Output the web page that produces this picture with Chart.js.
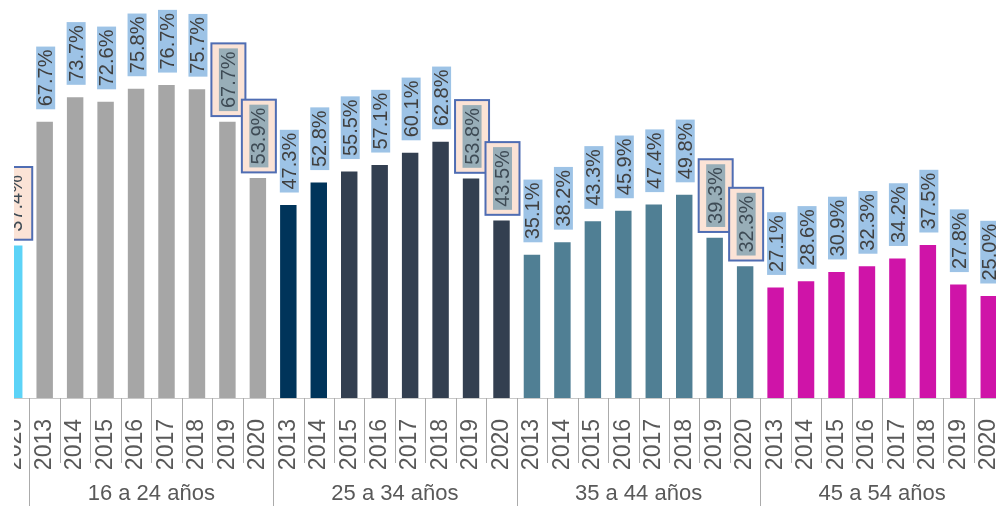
<!DOCTYPE html>
<html>
<head>
<meta charset="utf-8">
<script src="https://cdn.jsdelivr.net/npm/chart.js@4.4.1/dist/chart.umd.min.js"></script>
<style>
    html, body { margin: 0; padding: 0; background: #fff; }
    #wrap { position: relative; width: 996px; height: 506px; overflow: hidden; }
    #chart { position: absolute; left: -1px; top: 0; }
    #mask { position: absolute; left: 0; top: 0; width: 14px; height: 506px; background: #fff; }
</style>
</head>
<body>
<div id="wrap">
    <canvas id="chart" width="1005" height="506"></canvas>
    <div id="mask"></div>
</div>
<script>
// Data
const years = ["2013", "2014", "2015", "2016", "2017", "2018", "2019", "2020"];
const groupNames = ["16 a 24 años", "25 a 34 años", "35 a 44 años", "45 a 54 años"];
const prevGroupLast = 37.4;  // cut-off bar on the left (previous group, 2020)
const age16_24 = [67.7, 73.7, 72.6, 75.8, 76.7, 75.7, 67.7, 53.9];
const age25_34 = [47.3, 52.8, 55.5, 57.1, 60.1, 62.8, 53.8, 43.5];
const age35_44 = [35.1, 38.2, 43.3, 45.9, 47.4, 49.8, 39.3, 32.3];
const age45_54 = [27.1, 28.6, 30.9, 32.3, 34.2, 37.5, 27.8, 25.0];

const labels = ["2020"].concat(years, years, years, years);
const values = [prevGroupLast].concat(age16_24, age25_34, age35_44, age45_54);

// bar colours per category
const colors = labels.map((y, i) => {
    if (i === 0) return "#5CD3F7";
    const g = Math.floor((i - 1) / 8), k = (i - 1) % 8;
    if (g === 0) return "#A6A6A6";
    if (g === 1) return k < 2 ? "#00345A" : "#333F50";
    if (g === 2) return "#507F94";
    return "#CF14A8";
});

// 2019/2020 labels boxed, except in the last group
const isHighlight = i => i === 0 || (i < 25 && ((i - 1) % 8) >= 6);

// Rotated value labels above the bars
const barLabels = {
    id: "barLabels",
    afterDatasetsDraw(chart) {
        const ctx = chart.ctx;
        const meta = chart.getDatasetMeta(0);
        ctx.save();
        ctx.font = "20px 'Liberation Sans'";
        ctx.textAlign = "center";
        ctx.textBaseline = "middle";
        meta.data.forEach((bar, i) => {
            const txt = values[i].toFixed(1) + "%";
            const boxH = ctx.measureText(txt).width + 6;
            ctx.save();
            if (isHighlight(i)) {
                ctx.translate(bar.x + 1, bar.y - 5.7);
                ctx.rotate(-Math.PI / 2);
                ctx.fillStyle = "#FBE3D6";
                ctx.fillRect(0, -17, boxH + 10, 34);
                ctx.strokeStyle = "#4F6DB3";
                ctx.lineWidth = 2;
                ctx.strokeRect(0, -17, boxH + 10, 34);
                if (i !== 0) {
                    ctx.fillStyle = "#98AEB8";
                    ctx.fillRect(5, -9.5, boxH, 19);
                }
                ctx.fillStyle = "#3E4B55";
                ctx.fillText(txt, 5 + boxH / 2, 1);
            } else {
                ctx.translate(bar.x + 1, bar.y - 12.5);
                ctx.rotate(-Math.PI / 2);
                ctx.fillStyle = "#9DC3E6";
                ctx.fillRect(0, -9.5, boxH, 19);
                ctx.fillStyle = "#404040";
                ctx.fillText(txt, boxH / 2, 1);
            }
            ctx.restore();
        });
        ctx.restore();
    }
};

// Category separators and age-group labels under the axis
const groupAxis = {
    id: "groupAxis",
    afterDraw(chart) {
        const ctx = chart.ctx;
        const x = chart.scales.x;
        const step = x.width / labels.length;
        ctx.save();
        ctx.strokeStyle = "#ABABAB";
        ctx.lineWidth = 1;
        for (let k = 0; k <= labels.length; k++) {
            const px = Math.round(x.left + k * step) + 0.5;
            const long = (k - 1) % 8 === 0;
            ctx.beginPath();
            ctx.moveTo(px, x.top);
            ctx.lineTo(px, long ? 506 : 463);
            ctx.stroke();
        }
        ctx.font = "22px 'Liberation Sans'";
        ctx.fillStyle = "#595959";
        ctx.textAlign = "center";
        ctx.textBaseline = "middle";
        groupNames.forEach((name, g) => {
            const a = x.getPixelForValue(1 + g * 8);
            const b = x.getPixelForValue(8 + g * 8);
            ctx.fillText(name, (a + b) / 2, 494);
        });
        ctx.restore();
    }
};

const chart = new Chart(document.getElementById("chart").getContext("2d"), {
    type: "bar",
    data: {
        labels: labels,
        datasets: [{
            data: values,
            backgroundColor: colors,
            barPercentage: 0.54,
            categoryPercentage: 1
        }]
    },
    options: {
        responsive: false,
        animation: false,
        devicePixelRatio: 1,
        layout: { padding: 0 },
        plugins: {
            legend: { display: false },
            tooltip: { enabled: false }
        },
        scales: {
            x: {
                grid: { display: false },
                border: { display: true, color: "#C8C8C8" },
                ticks: {
                    autoSkip: false,
                    minRotation: 90,
                    maxRotation: 90,
                    padding: 13,
                    color: "#595959",
                    font: { family: "'Liberation Sans'", size: 23 }
                },
                afterFit(scale) {
                    scale.height = 108;
                    scale.paddingLeft = 0;
                    scale.paddingRight = 0;
                }
            },
            y: {
                display: false,
                min: 0,
                max: 97.55
            }
        }
    },
    plugins: [barLabels, groupAxis]
});
</script>
</body>
</html>
